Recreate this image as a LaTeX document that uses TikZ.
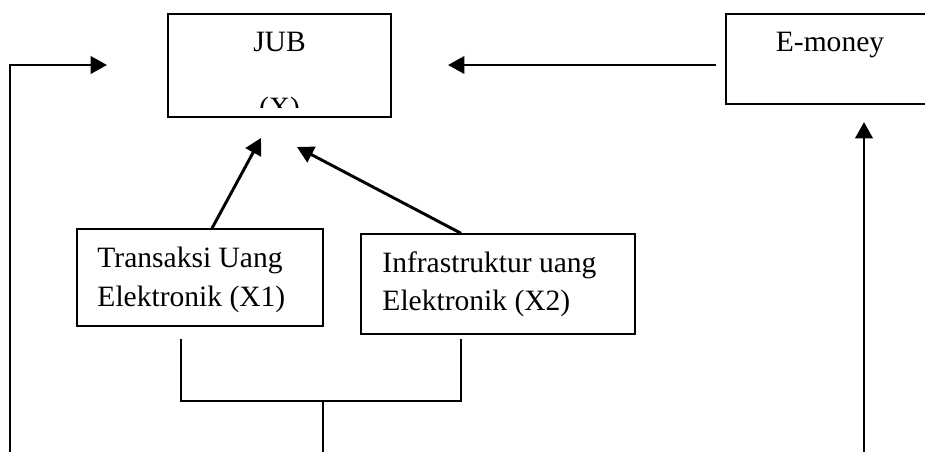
\documentclass[tikz,border=0pt]{standalone}
\usepackage{fontspec}
\setmainfont{Liberation Serif}
\usetikzlibrary{arrows.meta}

\begin{document}
\begin{tikzpicture}[
    x=0.015cm, y=-0.015cm,
    box/.style={rectangle, draw=black, line width=0.6pt, inner sep=0pt},
    txt/.style={font=\fontsize{12.6}{15}\selectfont, inner sep=0pt, anchor=base west},
    link/.style={line width=1.25pt, -{Triangle[length=7pt, width=7.4pt]}},
    wire/.style={line width=1pt}
]
    \clip (0,0) rectangle (925,452);
    % boxes
    \node[box, minimum width=3.345cm, minimum height=1.545cm] (jub) at (279.5,65.5) {};
    \node[box, minimum width=3.15cm, minimum height=1.35cm] (emoney) at (831,59) {};
    \node[box, minimum width=3.69cm, minimum height=1.455cm] (x1) at (200,277.5) {};
    \node[box, minimum width=4.11cm, minimum height=1.5cm] (x2) at (498,284) {};
    % texts
    \node[txt, anchor=base] (jubname) at (279.5,52) {JUB};
    \begin{scope}
        \clip (jub.north west) rectangle ([yshift=0.15cm]jub.south east);
        \node[txt, anchor=base] (jubvar) at (279.5,117) {(X)};
    \end{scope}
    \node[txt, anchor=base] (emname) at (830,52) {E-money};
    \node[txt] (x1a) at (97,267) {Transaksi Uang};
    \node[txt] (x1b) at (97,306) {Elektronik (X1)};
    \node[txt] (x2a) at (382,272) {Infrastruktur uang};
    \node[txt] (x2b) at (382,310) {Elektronik (X2)};
    % free ends
    \coordinate (emL) at (716,65);
    \coordinate (jubR) at (448,65);
    \coordinate (leftB) at (10,456);
    \coordinate (jubL) at (107,65);
    \coordinate (jubA) at (261,138);
    \coordinate (jubB) at (297,147);
    \coordinate (rightB) at (864,456);
    \coordinate (emB) at (864,122);
    \coordinate (brL) at (181,339);
    \coordinate (brR) at (461,339);
    \coordinate (brM) at (323,401);
    \coordinate (brB) at (323,456);
    % connectors
    \draw[link] (emL) -- (jubR);
    \draw[link] (leftB) |- (jubL);
    \draw[link] ([xshift=0.18cm]x1.north) -- (jubA);
    \draw[link] ([xshift=-0.555cm]x2.north) -- (jubB);
    \draw[link] (rightB) -- (emB);
    \draw[wire] (brL) |- (brM) -| (brR);
    \draw[wire] (brM) -- (brB);
\end{tikzpicture}
\end{document}
